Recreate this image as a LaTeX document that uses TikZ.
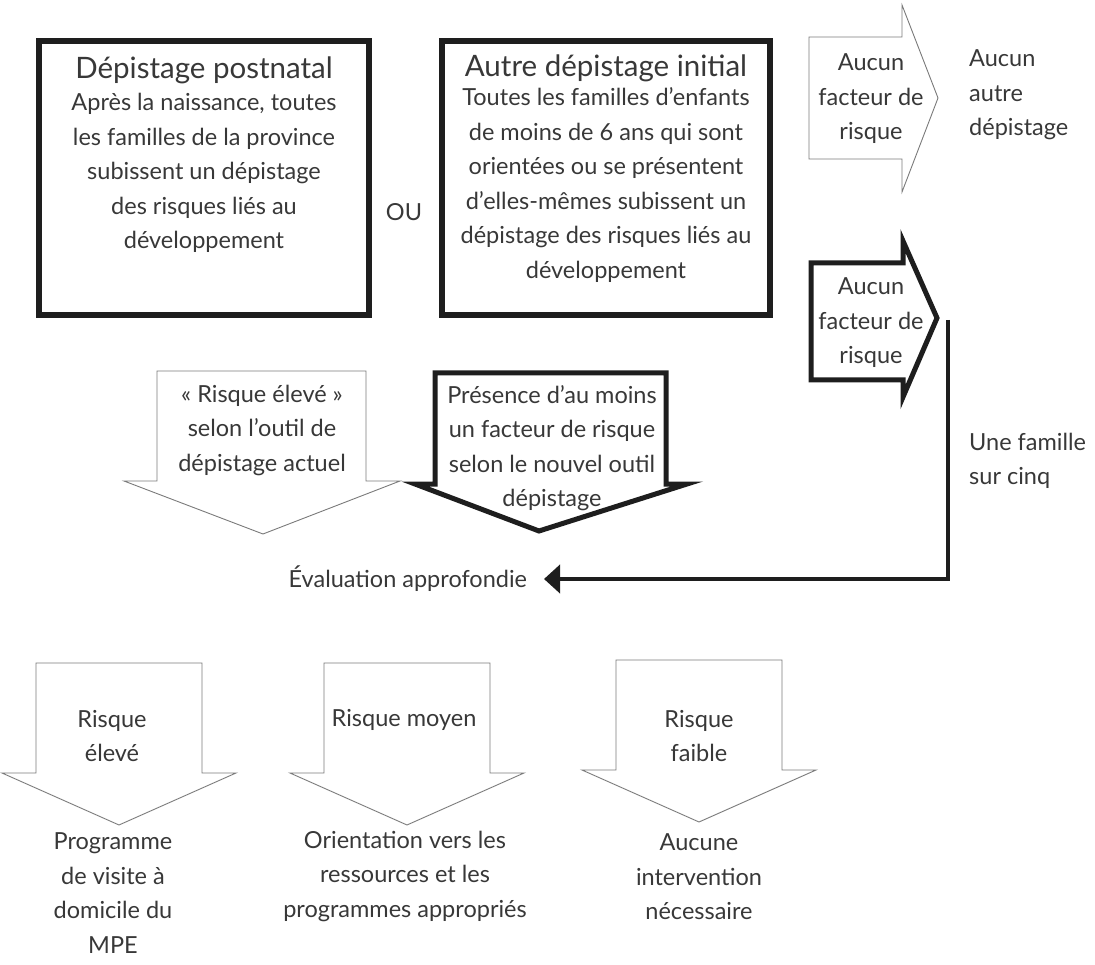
\documentclass[tikz,border=0pt]{standalone}
\usepackage{fontspec}
\setmainfont{Lato}
\usetikzlibrary{arrows.meta}
\definecolor{txtgray}{HTML}{383838}
\definecolor{linegray}{HTML}{7A7A7A}
\definecolor{inkblack}{HTML}{1E1E1E}
\tikzset{
  txt/.style={text=txtgray, font=\fontsize{23.5}{34.5}\selectfont, align=center, inner sep=0pt},
  titre/.style={text=txtgray, font=\fontsize{29.5}{34}\selectfont, inner sep=0pt},
  boite/.style={draw=inkblack, line width=5.5pt},
  fleche/.style={draw=linegray, line width=0.9pt, fill=white},
  grossefleche/.style={draw=inkblack, line width=5pt, fill=white, miter limit=10},
  connecteur/.style={draw=inkblack, line width=4.5pt, -{Triangle[length=16pt, width=28pt]}}
}
\begin{document}
\begin{tikzpicture}[x=1pt, y=-1pt, line join=miter]
    \useasboundingbox (0,0) rectangle (1095,965);

    % les deux encadres du haut
    \draw[boite] (39,41) rectangle (369,315);
    \draw[boite] (442,41) rectangle (770,315);

    % fleche claire vers la droite
    \draw[fleche] (809,37) -- (902,37) -- (902,5) -- (938,98) -- (902,192) -- (902,159) -- (809,159) -- cycle;
    % fleche foncee vers la droite
    \draw[grossefleche] (811,263) -- (903,263) -- (903,241) -- (937,318) -- (903,397) -- (903,380) -- (811,380) -- cycle;
    \coordinate (depart) at (948,320);

    % fleches vers le bas (milieu)
    \draw[fleche] (157,371) -- (366,371) -- (366,481) -- (400,481) -- (263,534) -- (124,481) -- (157,481) -- cycle;
    \draw[grossefleche] (435,373) -- (666,373) -- (666,484) -- (687,484) -- (539,531) -- (415,484) -- (435,484) -- cycle;

    % fleches vers le bas (niveaux de risque)
    \foreach \cx/\ty in {119/663, 407/663, 699/660}
        \draw[fleche] (\cx-83,\ty) -- (\cx+83,\ty) -- (\cx+83,\ty+110) -- (\cx+117,\ty+110)
            -- (\cx,\ty+162) -- (\cx-117,\ty+110) -- (\cx-83,\ty+110) -- cycle;

    % textes des encadres
    \node[titre] (titre1) at (204,70) {Dépistage postnatal};
    \node[txt] (corps1) at (204,173) {Après la naissance, toutes\\les familles de la province\\subissent un dépistage\\des risques liés au\\développement};
    \node[titre] (titre2) at (606,68) {Autre dépistage initial};
    \node[txt] (corps2) at (606,185) {Toutes les familles d’enfants\\de moins de 6 ans qui sont\\orientées ou se présentent\\d’elles-mêmes subissent un\\dépistage des risques liés au\\développement};
    \node[txt] (ou) at (404,212) {OU};

    % textes a droite
    \node[txt] (aucun1) at (871,99) {Aucun\\facteur de\\risque};
    \node[txt, anchor=west, align=left] (autre) at (969,95) {Aucun\\autre\\dépistage};
    \node[txt] (aucun2) at (871,323) {Aucun\\facteur de\\risque};
    \node[txt, anchor=west, align=left] (famille) at (969,461) {Une famille\\sur cinq};

    % textes des fleches du milieu
    \node[txt] (actuel) at (262,430) {«~Risque élevé~»\\selon l’outil de\\dépistage actuel};
    \node[txt] (nouvel) at (552,448) {Présence d’au moins\\un facteur de risque\\selon le nouvel outil\\dépistage};

    % evaluation
    \node[txt, anchor=east, outer xsep=17pt] (eval) at (544,579) {Évaluation approfondie};
    \draw[connecteur] (depart) |- (eval.east);

    % niveaux de risque
    \node[txt] (eleve) at (112,736) {Risque\\élevé};
    \node[txt] (moyen) at (404,720) {Risque moyen};
    \node[txt] (faible) at (699,736) {Risque\\faible};
    \node[txt] (visite) at (113,893) {Programme\\de visite à\\domicile du\\MPE};
    \node[txt] (orient) at (405,876) {Orientation vers les\\ressources et les\\programmes appropriés};
    \node[txt] (aucune) at (699,877) {Aucune\\intervention\\nécessaire};
\end{tikzpicture}
\end{document}
